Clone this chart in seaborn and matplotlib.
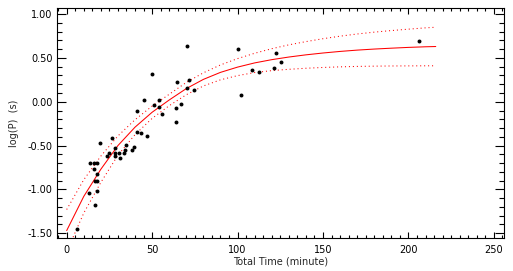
import numpy as np
import pandas as pd
import matplotlib
matplotlib.use("Agg")
import matplotlib.pyplot as plt
import seaborn as sns
from matplotlib.ticker import MultipleLocator, FormatStrFormatter

# measured points
time_min = [5.8, 13.0, 16.5, 17.7, 16.5, 17.7, 17.7, 15.8, 13.8, 15.8,
            17.7, 19.7, 26.5, 23.7, 24.7, 28.4, 28.4, 28.0, 30.4, 31.3,
            33.5, 34.3, 34.5, 38.4, 39.2, 41.1, 43.3, 47.0, 41.3, 45.2,
            50.1, 51.1, 54.0, 54.0, 55.9, 63.7, 63.7, 64.7, 66.7, 70.5,
            70.5, 71.6, 74.5, 100.0, 102.0, 108.6, 112.6, 121.6, 122.6, 125.5,
            206.0]
log_p = [-1.45, -1.04, -1.18, -1.02, -0.90, -0.90, -0.82, -0.77, -0.70, -0.70,
         -0.70, -0.47, -0.41, -0.62, -0.58, -0.53, -0.62, -0.58, -0.58, -0.64,
         -0.58, -0.555, -0.49, -0.55, -0.52, -0.34, -0.36, -0.39, -0.10, 0.02,
         0.32, -0.04, 0.02, -0.06, -0.14, -0.07, -0.23, 0.22, -0.03, 0.64,
         0.16, 0.25, 0.13, 0.60, 0.08, 0.365, 0.34, 0.38, 0.56, 0.45,
         0.695]

# fitted curve and its band
fit_x = [0, 10, 20, 30, 40, 50, 60, 70, 80, 90, 100, 110,
         120, 130, 140, 150, 160, 170, 180, 190, 200, 210, 216]
fit_mid = [-1.47, -1.08, -0.77, -0.50, -0.29, -0.12, 0.02, 0.15, 0.255, 0.335, 0.395, 0.443,
           0.48, 0.51, 0.535, 0.556, 0.574, 0.589, 0.601, 0.611, 0.62, 0.627, 0.63]
fit_hi = [-1.23, -0.89, -0.62, -0.39, -0.205, -0.05, 0.085, 0.22, 0.33, 0.42, 0.492, 0.553,
          0.605, 0.649, 0.686, 0.719, 0.748, 0.773, 0.794, 0.812, 0.828, 0.843, 0.85]
fit_lo = [-1.71, -1.27, -0.92, -0.61, -0.375, -0.19, -0.045, 0.08, 0.18, 0.25, 0.298, 0.333,
          0.355, 0.37, 0.382, 0.391, 0.398, 0.403, 0.406, 0.408, 0.409, 0.41, 0.41]

pts = pd.DataFrame({"t": time_min, "p": log_p})
fit = pd.DataFrame({"t": fit_x, "mid": fit_mid, "hi": fit_hi, "lo": fit_lo})

sns.set_style("ticks")
plt.rcParams["font.family"] = ["DejaVu Sans"]
plt.rcParams["font.size"] = 7

fig = plt.figure(figsize=(5.13, 2.71), dpi=100)
ax = fig.add_axes([0.111, 0.122, 0.871, 0.848])

sns.lineplot(data=fit, x="t", y="mid", ax=ax, color="#ff0000", lw=0.75,
             sort=False, estimator=None)
sns.lineplot(data=fit, x="t", y="hi", ax=ax, color="#ff0000", lw=0.75,
             sort=False, estimator=None, linestyle=(0, (1, 2.8)))
sns.lineplot(data=fit, x="t", y="lo", ax=ax, color="#ff0000", lw=0.75,
             sort=False, estimator=None, linestyle=(0, (1, 2.8)))
sns.scatterplot(data=pts, x="t", y="p", ax=ax, color="black", s=8,
                linewidth=0, zorder=3)

ax.set_xlim(-5.7, 255.8)
ax.set_ylim(-1.554, 1.068)
ax.xaxis.set_major_locator(MultipleLocator(50))
ax.xaxis.set_minor_locator(MultipleLocator(5))
ax.yaxis.set_major_locator(MultipleLocator(0.5))
ax.yaxis.set_minor_locator(MultipleLocator(0.1))
ax.yaxis.set_major_formatter(FormatStrFormatter("%.2f"))
ax.tick_params(axis="both", which="both", direction="in", top=True, right=True,
               color="black", width=0.8, labelsize=7, colors="black")
ax.tick_params(axis="x", which="major", length=4.5, pad=5)
ax.tick_params(axis="x", which="minor", length=2.3)
ax.tick_params(axis="y", which="major", length=6.5, pad=3)
ax.tick_params(axis="y", which="minor", length=3.3)
for sp in ax.spines.values():
    sp.set_color("black")
    sp.set_linewidth(0.8)

ax.set_xlabel("Total Time (minute)", fontsize=7, labelpad=1)
ax.set_ylabel("log(P)  (s)", fontsize=7, labelpad=6)

fig.savefig("out.png", dpi=100)
